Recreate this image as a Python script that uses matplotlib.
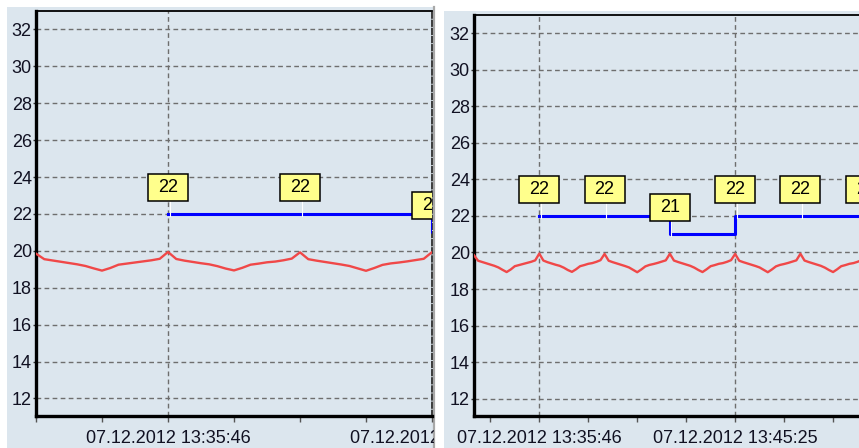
import datetime as dt
import matplotlib
matplotlib.use("Agg")
import matplotlib.pyplot as plt
import matplotlib.dates as mdates
import matplotlib.transforms as mtransforms
from matplotlib.patches import Rectangle
from matplotlib.lines import Line2D

plt.rcParams['font.family'] = ['Liberation Sans', 'DejaVu Sans']

# nastawa zapisywana co 193 s, temperatura 16 razy na ten okres
t_start = dt.datetime(2012, 12, 7, 13, 35, 46)
period = dt.timedelta(seconds=193)

setpoint = [22, 22, 21, 22, 22, 22]

temperature = [
    19.85, 19.55, 19.48, 19.41, 19.34, 19.27, 19.18, 19.05, 18.93, 19.07, 19.25, 19.31, 19.37, 19.43, 19.49, 19.57,
    19.94, 19.56, 19.47, 19.40, 19.33, 19.27, 19.17, 19.04, 18.94, 19.08, 19.25, 19.31, 19.38, 19.42, 19.49, 19.58,
    19.92, 19.55, 19.47, 19.40, 19.33, 19.26, 19.18, 19.05, 18.92, 19.07, 19.24, 19.32, 19.37, 19.43, 19.50, 19.57,
    19.93, 19.56, 19.48, 19.41, 19.34, 19.27, 19.17, 19.04, 18.93, 19.08, 19.25, 19.31, 19.38, 19.42, 19.49, 19.58,
    19.92, 19.55, 19.47, 19.40, 19.33, 19.26, 19.18, 19.05, 18.92, 19.07, 19.24, 19.32, 19.37, 19.43, 19.50, 19.57,
    19.93, 19.56, 19.48, 19.41, 19.34, 19.27, 19.17, 19.04, 18.93, 19.08, 19.25, 19.31, 19.38, 19.42, 19.49, 19.58,
    19.92,
]

sp_times = [t_start + k * period for k in range(len(setpoint))]
temp_times = [t_start - period + i * period / 16 for i in range(len(temperature))]

W, H = 859, 448
BG = '#dce6ee'
fig = plt.figure(figsize=(W / 100, H / 100), dpi=100, facecolor='white')


def fx(px):
    return px / W


def fy(py):
    return 1 - py / H


# tla obu paneli
fig.patches.append(Rectangle((fx(7), 0), fx(434) - fx(7), fy(7), transform=fig.transFigure,
                             facecolor=BG, edgecolor='none', zorder=-5))
fig.patches.append(Rectangle((fx(444), 0), 1 - fx(444), fy(11), transform=fig.transFigure,
                             facecolor=BG, edgecolor='none', zorder=-5))
fig.add_artist(Line2D([fx(434), fx(434)], [0, fy(7)], transform=fig.transFigure,
                      color='#a8a8a8', lw=1.6, zorder=-4))


def panel(left, top, right, t_lo, t_hi, minor_ticks, major_ticks, clip_right):
    ax = fig.add_axes([fx(left), fy(416), fx(right) - fx(left), fy(top) - fy(416)])
    ax.set_facecolor(BG)

    ax.plot(temp_times, temperature, color='#f04848', lw=1.7, zorder=3)
    ax.step(sp_times, setpoint, where='post', color='#0000ff', lw=2.2, zorder=4)

    for t, v in zip(sp_times, setpoint):
        at_point = mtransforms.IdentityTransform() + \
            mtransforms.ScaledTranslation(mdates.date2num(t), v, ax.transData)
        ax.add_line(Line2D([1.5, 1.5], [-2, 13], transform=at_point, color='white', lw=0.8, zorder=5))
        ax.add_patch(Rectangle((-20, 13), 40, 27, transform=at_point, facecolor='#ffff8c',
                               edgecolor='black', lw=1.1, zorder=6))
        ax.text(0, 26.5, str(v), transform=at_point, ha='center', va='center',
                fontsize=13, color='black', zorder=7, clip_on=True)

    ax.set_xlim(mdates.date2num(t_lo), mdates.date2num(t_hi))
    ax.set_ylim(11.05, 33)
    ax.set_yticks(range(12, 33, 2))
    ax.set_xticks([mdates.date2num(t) for t in major_ticks])
    ax.set_xticks([mdates.date2num(t) for t in minor_ticks], minor=True)
    ax.set_xticklabels([t.strftime('%d.%m.%Y %H:%M:%S') for t in major_ticks])

    ax.grid(True, which='major', axis='both', color='#6e6e6e', lw=1.0,
            linestyle=(0, (3.4, 2.4)), zorder=1)
    ax.set_axisbelow(True)

    ax.tick_params(axis='x', which='both', direction='out', length=4.5, width=1,
                   color='#555555', pad=5.5, labelsize=13, labelcolor='#111122')
    ax.tick_params(axis='y', direction='out', length=2, width=1, color='#333333',
                   pad=1, labelsize=13, labelcolor='#111122')

    ax.spines['left'].set_linewidth(2.4)
    ax.spines['bottom'].set_linewidth(2.4)
    ax.spines['top'].set_linewidth(1.3)
    for s in ('left', 'bottom', 'top'):
        ax.spines[s].set_color('black')
    ax.spines['right'].set_linestyle((0, (3, 1.5)))
    ax.spines['right'].set_linewidth(1.3)
    ax.spines['right'].set_color('#303030')

    clip = mtransforms.TransformedBbox(
        mtransforms.Bbox.from_extents(0, 0, fx(clip_right), 1), fig.transFigure)
    for lab in ax.get_xticklabels():
        lab.set_clip_box(clip)
        lab.set_clip_on(True)
    return ax


# lewy panel: podzialka co pol okresu, opis co dwa okresy
left_minor = [t_start - period + k * period / 2 for k in range(7)]
left_major = [t_start, t_start + 2 * period]
panel(36, 11, 432, t_start - period, t_start + 2 * period, left_minor, left_major, 434)

# prawy panel: podzialka co 3/4 okresu, opis co trzy okresy
right_minor = [t_start + k * period * 3 / 4 for k in range(-1, 9)]
right_major = [t_start, t_start + 3 * period]
panel(474, 15, 931, t_start - period, t_start + 6 * period, right_minor, right_major, 1.2 * W)

fig.savefig('out.png', dpi=100, facecolor='white')
